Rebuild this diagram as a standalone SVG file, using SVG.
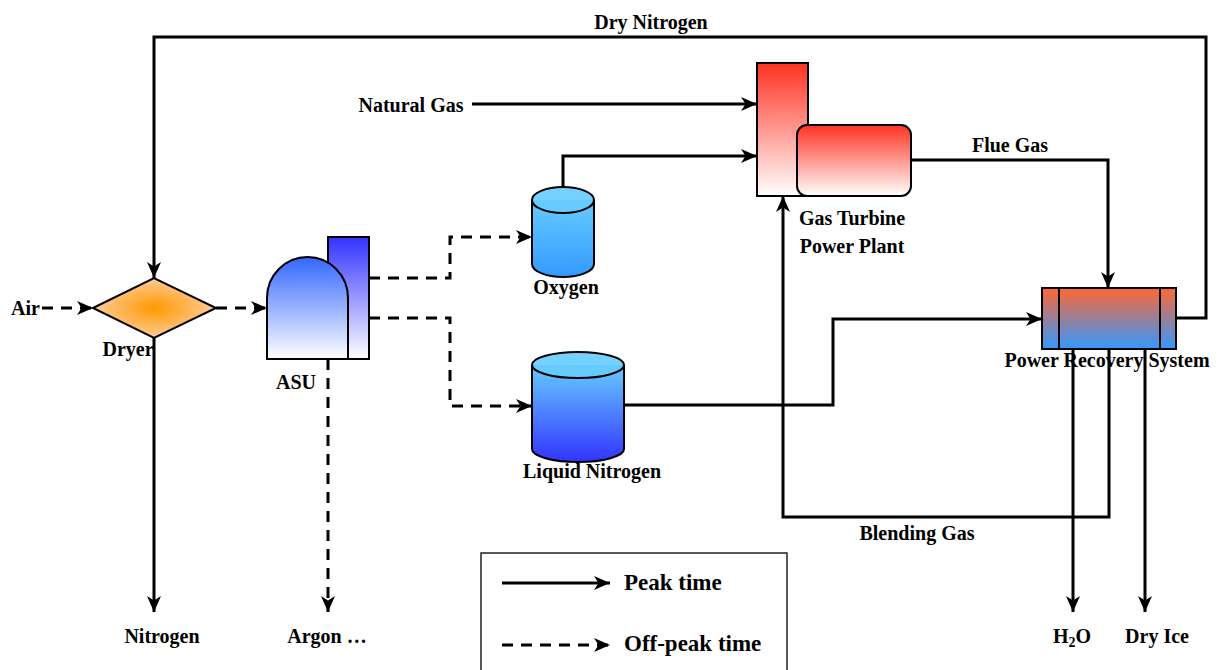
<svg xmlns="http://www.w3.org/2000/svg" width="1218" height="670" viewBox="0 0 1218 670">
  <style>
    .lbl { font-family: "Liberation Serif", "Times New Roman", serif; font-weight: bold; font-size: 20px; fill: #000; }
    .leg { font-family: "Liberation Serif", "Times New Roman", serif; font-weight: bold; font-size: 23px; fill: #000; }
    .edge { fill: none; stroke: #000; stroke-width: 3; }
    .dash { stroke-dasharray: 11 8; }
    .shape { stroke: #000; stroke-width: 2; }
  </style>
  <defs>
    <marker id="arrow" markerUnits="userSpaceOnUse" markerWidth="18" markerHeight="14" refX="16" refY="7" orient="auto">
      <path d="M0,0 L16,7 L0,14 L4.5,7 Z" fill="#000"/>
    </marker>
    <radialGradient id="gDryer" cx="50%" cy="50%" r="50%">
      <stop offset="0" stop-color="#ff9900"/>
      <stop offset="1" stop-color="#ffcc99"/>
    </radialGradient>
    <linearGradient id="gDome" x1="0" y1="0" x2="0" y2="1">
      <stop offset="0" stop-color="#3366ff"/>
      <stop offset="1" stop-color="#ffffff"/>
    </linearGradient>
    <linearGradient id="gTower" x1="0" y1="0" x2="0" y2="1">
      <stop offset="0" stop-color="#3333ff"/>
      <stop offset="1" stop-color="#ffffff"/>
    </linearGradient>
    <linearGradient id="gOxy" x1="0" y1="0" x2="0" y2="1">
      <stop offset="0" stop-color="#66ccff"/>
      <stop offset="1" stop-color="#3399ff"/>
    </linearGradient>
    <linearGradient id="gLN" x1="0" y1="0" x2="0" y2="1">
      <stop offset="0" stop-color="#66ccff"/>
      <stop offset="1" stop-color="#3333ff"/>
    </linearGradient>
    <linearGradient id="gRed" x1="0" y1="0" x2="0" y2="1">
      <stop offset="0" stop-color="#ff3322"/>
      <stop offset="1" stop-color="#ffffff"/>
    </linearGradient>
    <linearGradient id="gPRS" x1="0" y1="0" x2="0" y2="1">
      <stop offset="0" stop-color="#ff6633"/>
      <stop offset="1" stop-color="#3399ff"/>
    </linearGradient>
  </defs>

  <rect width="1218" height="670" fill="#ffffff"/>

  <!-- connectors -->
  <g id="connectors">
    <path class="edge dash" d="M42,308 H93" marker-end="url(#arrow)"/>
    <path class="edge dash" d="M216,308 H267" marker-end="url(#arrow)"/>
    <path class="edge dash" d="M369,278 H450 V237 H532" marker-end="url(#arrow)"/>
    <path class="edge dash" d="M369,318 H450 V406 H532" marker-end="url(#arrow)"/>
    <path class="edge dash" d="M328,359 V612" marker-end="url(#arrow)"/>
    <path class="edge" d="M154,338 V612" marker-end="url(#arrow)"/>
    <path class="edge" d="M1176,318 H1206 V37 H154 V278" marker-end="url(#arrow)"/>
    <path class="edge" d="M472,104 H757" marker-end="url(#arrow)"/>
    <path class="edge" d="M563,187 V156 H757" marker-end="url(#arrow)"/>
    <path class="edge" d="M624,405 H833 V319 H1042" marker-end="url(#arrow)"/>
    <path class="edge" d="M911,160 H1108 V288" marker-end="url(#arrow)"/>
    <path class="edge" d="M1073,349 V612" marker-end="url(#arrow)"/>
    <path class="edge" d="M1145,349 V612" marker-end="url(#arrow)"/>
    <path class="edge" d="M1109,349 V517 H783 V196" marker-end="url(#arrow)"/>
  </g>

  <!-- edge labels and sources/sinks -->
  <text class="lbl" x="11" y="315">Air</text>
  <text class="lbl" x="651" y="29" text-anchor="middle">Dry Nitrogen</text>
  <text class="lbl" x="411" y="112" text-anchor="middle">Natural Gas</text>
  <text class="lbl" x="1010" y="152" text-anchor="middle">Flue Gas</text>
  <text class="lbl" x="917" y="540" text-anchor="middle">Blending Gas</text>
  <text class="lbl" x="162" y="643" text-anchor="middle">Nitrogen</text>
  <text class="lbl" x="327" y="643" text-anchor="middle">Argon …</text>
  <text class="lbl" x="1072" y="643" text-anchor="middle">H<tspan font-size="14" dy="4">2</tspan><tspan dy="-4">O</tspan></text>
  <text class="lbl" x="1157" y="643" text-anchor="middle">Dry Ice</text>

  <!-- dryer -->
  <g id="dryer">
    <path class="shape" d="M93,308 L154,278 L216,308 L154,338 Z" fill="url(#gDryer)"/>
    <text class="lbl" x="128" y="356" text-anchor="middle">Dryer</text>
  </g>

  <!-- air separation unit -->
  <g id="asu">
    <rect class="shape" x="328" y="237" width="41" height="122" fill="url(#gTower)"/>
    <path class="shape" d="M267,359 V298 A40.5,41 0 0 1 348,298 V359 Z" fill="url(#gDome)"/>
    <text class="lbl" x="296" y="389" text-anchor="middle">ASU</text>
  </g>

  <!-- oxygen tank -->
  <g id="oxygen">
    <path class="shape" d="M532,200 V264 A31,13 0 0 0 594,264 V200" fill="url(#gOxy)"/>
    <ellipse class="shape" cx="563" cy="200" rx="31" ry="13" fill="#66ccff" fill-opacity="0.9"/>
    <text class="lbl" x="566" y="294" text-anchor="middle">Oxygen</text>
  </g>

  <!-- liquid nitrogen tank -->
  <g id="liquid-nitrogen">
    <path class="shape" d="M532,365 V449 A46,13 0 0 0 624,449 V365" fill="url(#gLN)"/>
    <ellipse class="shape" cx="578" cy="365" rx="46" ry="13" fill="#66ccff" fill-opacity="0.9"/>
    <text class="lbl" x="592" y="478" text-anchor="middle">Liquid Nitrogen</text>
  </g>

  <!-- gas turbine power plant -->
  <g id="gas-turbine">
    <rect class="shape" x="757" y="63" width="51" height="133" fill="url(#gRed)"/>
    <rect class="shape" x="797" y="125" width="114" height="71" rx="10" ry="10" fill="url(#gRed)"/>
    <text class="lbl" x="852" y="225" text-anchor="middle">Gas Turbine</text>
    <text class="lbl" x="852" y="253" text-anchor="middle">Power Plant</text>
  </g>

  <!-- power recovery system -->
  <g id="power-recovery">
    <rect class="shape" x="1042" y="288" width="134" height="61" fill="url(#gPRS)"/>
    <line class="shape" x1="1059" y1="288" x2="1059" y2="349"/>
    <line class="shape" x1="1160" y1="288" x2="1160" y2="349"/>
    <text class="lbl" x="1107" y="367" text-anchor="middle">Power Recovery System</text>
  </g>

  <!-- legend -->
  <g id="legend">
    <rect x="481" y="553" width="306" height="130" fill="#ffffff" stroke="#222" stroke-width="1.5"/>
    <path class="edge" d="M502,583 H610" marker-end="url(#arrow)"/>
    <text class="leg" x="624" y="590">Peak time</text>
    <path class="edge dash" d="M502,645 H610" marker-end="url(#arrow)"/>
    <text class="leg" x="624" y="651">Off-peak time</text>
  </g>
</svg>
